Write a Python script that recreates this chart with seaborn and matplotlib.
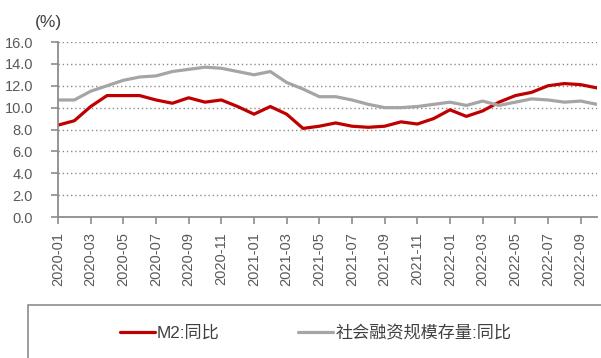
import matplotlib
matplotlib.use("Agg")
import matplotlib.pyplot as plt
from matplotlib.patches import Rectangle
import seaborn as sns
import pandas as pd

# Monthly observations, 2020-01 .. 2022-10
months = [f"{y}-{m:02d}" for y in (2020, 2021, 2022) for m in range(1, 13)][:34]
m2_yoy = [8.4, 8.8, 10.1, 11.1, 11.1, 11.1, 10.7, 10.4, 10.9, 10.5, 10.7, 10.1,
          9.4, 10.1, 9.4, 8.1, 8.3, 8.6, 8.3, 8.2, 8.3, 8.7, 8.5, 9.0,
          9.8, 9.2, 9.7, 10.5, 11.1, 11.4, 12.0, 12.2, 12.1, 11.8]
tsf_yoy = [10.7, 10.7, 11.5, 12.0, 12.5, 12.8, 12.9, 13.3, 13.5, 13.7, 13.6, 13.3,
           13.0, 13.3, 12.3, 11.7, 11.0, 11.0, 10.7, 10.3, 10.0, 10.0, 10.1, 10.3,
           10.5, 10.2, 10.6, 10.2, 10.5, 10.8, 10.7, 10.5, 10.6, 10.3]
series_names = ["M2:同比", "社会融资规模存量:同比"]
series_colors = ["#C00000", "#A5A5A5"]
y_ticks = [0, 2, 4, 6, 8, 10, 12, 14, 16]

df = pd.DataFrame({
    "idx": list(range(len(months))) * 2,
    "value": m2_yoy + tsf_yoy,
    "series": [series_names[0]] * len(months) + [series_names[1]] * len(months),
})

sns.set_style("white")
plt.rcParams["font.family"] = ["Liberation Sans", "Noto Sans CJK SC", "DejaVu Sans"]

fig = plt.figure(figsize=(6.01, 3.58), dpi=100)
ax = fig.add_axes([58 / 601, 1 - 217 / 358, (597 - 58) / 601, (217 - 42) / 358])

sns.lineplot(data=df, x="idx", y="value", hue="series", hue_order=series_names,
             palette=series_colors, linewidth=2.3, ax=ax, legend=False)

ax.set_xlim(0, len(months) - 1)
ax.set_ylim(0, 16)
ax.set_yticks(y_ticks)
ax.set_yticklabels([f"{v:.1f}" for v in y_ticks])
tick_pos = list(range(0, len(months), 2))
ax.set_xticks(tick_pos)
ax.set_xticklabels([months[i] for i in tick_pos], rotation=90)
ax.set_xlabel("")
ax.set_ylabel("")

for v in y_ticks[1:]:
    ax.axhline(v, color="#8C8C8C", linestyle=(0, (1, 2)), linewidth=1.0, zorder=0)

for side in ("top", "right"):
    ax.spines[side].set_visible(False)
for side in ("left", "bottom"):
    ax.spines[side].set_color("#8C8C8C")
    ax.spines[side].set_linewidth(1.3)

ax.tick_params(axis="y", direction="out", length=5, width=1.2, color="#8C8C8C",
               labelsize=10.5, labelcolor="#595959", pad=13, left=True)
ax.tick_params(axis="x", direction="out", length=5, width=1.2, color="#8C8C8C",
               labelsize=10.5, labelcolor="#595959", pad=6, bottom=True)

fig.text(48 / 601, 1 - 23 / 358, "(%)", ha="center", va="center",
         fontsize=12.5, color="#404040")

# Legend box spanning the lower part of the figure
fig.patches.append(Rectangle((28 / 601, -0.2), 1.0, 1 - 305 / 358 + 0.2,
                             transform=fig.transFigure, fill=False,
                             edgecolor="#8C8C8C", linewidth=1.2))
handles = [plt.Line2D([], [], color=c, linewidth=2.3) for c in series_colors]
fig.legend(handles, series_names, loc="center left",
           bbox_to_anchor=(105 / 601, 1 - 333 / 358), ncol=2, frameon=False,
           fontsize=12.3, handlelength=2.0, handletextpad=0.15,
           columnspacing=4.6, labelcolor="#404040")

fig.savefig("out.png", dpi=100)
